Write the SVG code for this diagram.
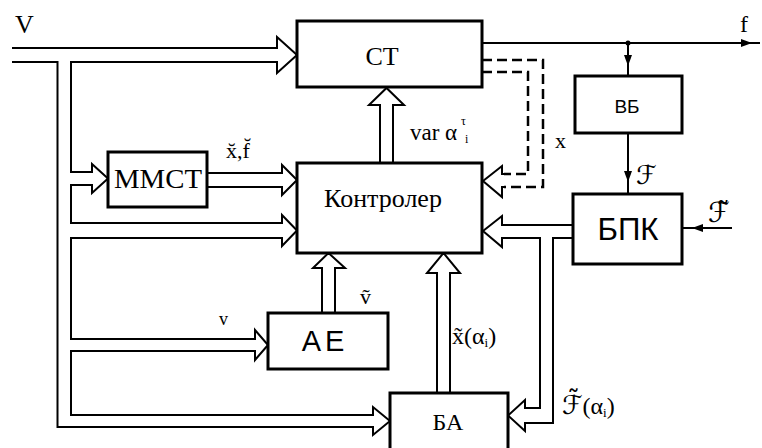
<svg xmlns="http://www.w3.org/2000/svg" width="762" height="448" viewBox="0 0 762 448">
<style>
.ln{fill:none;stroke:#000;stroke-width:2;stroke-linejoin:miter}
.dash{fill:none;stroke:#000;stroke-width:2.5;stroke-dasharray:10 5}
.box{fill:#fff;stroke:#000;stroke-width:3}
.ah{fill:#000;stroke:none}
.s{font-family:"Liberation Serif",serif;fill:#000}
.a{font-family:"Liberation Sans",sans-serif;fill:#000}
.m{font-family:"DejaVu Sans","DejaVu Serif",serif;fill:#000}
</style>
<rect width="762" height="448" fill="#fff"/>
<g id="connectors">
  <path class="ln" d="M12,48 H277 V37 L297,55 L277,73 V62 H71 V172 H92 V164 L108,178.5 L92,193 V185 H71 V223 H282 V215 L297,230.5 L282,246 V238 H71 V339 H255 V330 L268,345 L255,360 V351 H71 V415 H373 V407 L390,421 L373,435 V427 H57.5 V62 H12"/>
  <path class="ln" d="M207,173 H282 V165 L297,180 L282,195 V187 H207"/>
  <path class="ln" d="M380,163 V105 H369 L386.5,88 L404,105 H393 V163"/>
  <path class="ln" d="M322,313 V268 H313 L328.5,253 L345,268 H335 V313"/>
  <path class="ln" d="M437,393 V273 H427 L443.5,253 L460,273 H450 V393"/>
  <path class="ln" d="M573,225 H502 V216 L483,231 L502,247 V238 H540 V408 H525 V400 L508,415.5 L525,431 V423 H553 V238 H573"/>
  <path class="dash" d="M482,72 H528 V174 H504"/>
  <path class="dash" d="M482,60 H543 V187 H504"/>
  <path class="ln" d="M506,174 H502 V166 L483,181 L502,197 V187 H506"/>
  <path class="ln" d="M482,43 H760"/>
  <polygon class="ah" points="741,39 752,43 741,47"/>
  <circle class="ah" cx="628" cy="43" r="2.5"/>
  <path class="ln" d="M628,43 V76"/>
  <polygon class="ah" points="624,55 628,66 632,55"/>
  <path class="ln" d="M628,133 V194"/>
  <polygon class="ah" points="624,171 628,182 632,171"/>
  <path class="ln" d="M682,228 H732"/>
  <polygon class="ah" points="703,224 692,228 703,232"/>
</g>
<g id="CT">
  <rect class="box" x="297" y="21" width="185" height="66"/>
  <text class="s" x="382" y="65" font-size="26" text-anchor="middle">CT</text>
</g>
<g id="Controller">
  <rect class="box" x="297" y="163" width="185" height="90"/>
  <text class="s" x="383" y="207" font-size="26" text-anchor="middle">Контролер</text>
</g>
<g id="MMCT">
  <rect class="box" x="108" y="152" width="99" height="55"/>
  <text class="s" x="158" y="188" font-size="27" text-anchor="middle" textLength="88" lengthAdjust="spacingAndGlyphs">MMCT</text>
</g>
<g id="VB">
  <rect class="box" x="575" y="76" width="107" height="57"/>
  <text class="a" x="627" y="113" font-size="19" text-anchor="middle">ВБ</text>
</g>
<g id="BPK">
  <rect class="box" x="573" y="194" width="109" height="70"/>
  <text class="a" x="628" y="240" font-size="32" text-anchor="middle" textLength="61" lengthAdjust="spacingAndGlyphs">БПК</text>
</g>
<g id="AE">
  <rect class="box" x="268" y="313" width="120" height="56"/>
  <text class="a" x="325" y="351" font-size="29" text-anchor="middle" letter-spacing="4">AE</text>
</g>
<g id="BA">
  <rect class="box" x="390" y="393" width="118" height="62"/>
  <text class="s" x="448" y="430" font-size="24" text-anchor="middle">БА</text>
</g>
<g id="labels">
  <text class="s" x="15" y="33" font-size="26">V</text>
  <text class="s" x="740" y="32" font-size="24">f</text>
  <text class="s" x="410" y="140" font-size="23">var α</text>
  <text class="s" x="461" y="125" font-size="12">τ</text>
  <text class="s" x="465" y="143" font-size="12">i</text>
  <text class="s" x="555" y="148" font-size="22">x</text>
  <text class="s" x="226" y="158" font-size="22">x̆,f̆</text>
  <text class="m" x="636" y="184" font-size="26">ℱ</text>
  <text class="m" x="708" y="222" font-size="28">ℱ̃</text>
  <text class="s" x="360" y="304" font-size="22">ṽ</text>
  <text class="s" x="219" y="325" font-size="18">v</text>
  <text class="s" x="452" y="344" font-size="24">x̃(α<tspan font-size="13" dy="3">i</tspan><tspan dy="-3">)</tspan></text>
  <text class="m" x="562" y="414" font-size="26">ℱ̃<tspan class="s" font-size="24">(α</tspan><tspan class="s" font-size="13" dy="3">i</tspan><tspan class="s" font-size="24" dy="-3">)</tspan></text>
</g>
</svg>
